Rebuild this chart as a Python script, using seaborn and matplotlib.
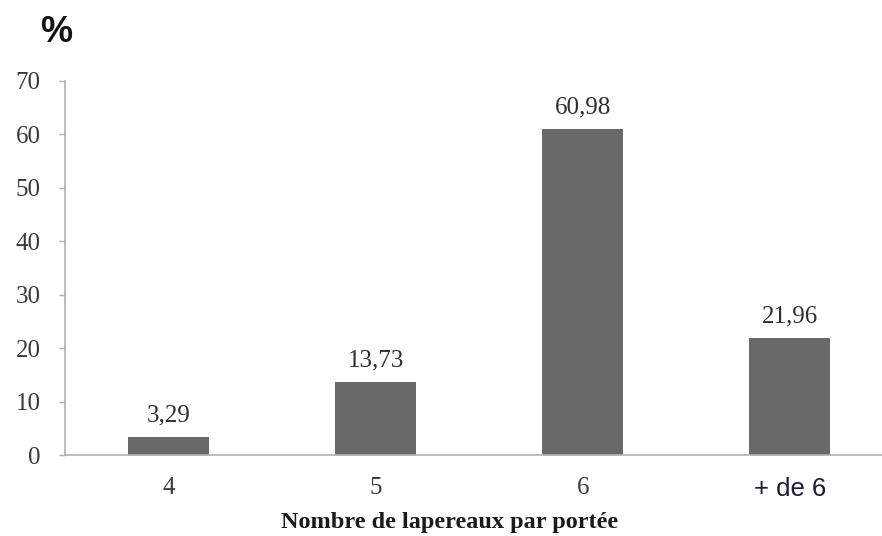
import matplotlib
matplotlib.use("Agg")
import matplotlib.pyplot as plt
import seaborn as sns
import pandas as pd

categories = ["4", "5", "6", "+ de 6"]
percentages = [3.29, 13.73, 60.98, 21.96]
value_labels = ["3,29", "13,73", "60,98", "21,96"]
y_ticks = [0, 10, 20, 30, 40, 50, 60, 70]

df = pd.DataFrame({"portee": categories, "pct": percentages})

sns.set_style("white")
serif = ["Liberation Serif", "DejaVu Serif"]
sans = ["Liberation Sans", "DejaVu Sans"]

fig = plt.figure(figsize=(8.82, 5.36), dpi=100)
ax = fig.add_axes([0.0737, 0.151, 0.939, 0.698])

sns.barplot(data=df, x="portee", y="pct", color="#696969", width=0.39,
            saturation=1, ax=ax, edgecolor="none")

ax.set_ylim(0, 70)
ax.set_xlim(-0.5, 3.5)
ax.set_yticks(y_ticks)
ax.set_yticklabels([str(t) for t in y_ticks], fontfamily=serif, fontsize=18, color="#3a3a3a")

# category labels without tick marks; small ticks at category boundaries
ax.set_xticks(range(len(categories)))
ax.set_xticklabels(categories, fontsize=18, color="#3a3a3a")
for lbl in ax.get_xticklabels():
    if lbl.get_text().startswith("+"):
        lbl.set_fontfamily(sans)
        lbl.set_color("#1a1a3a")
        lbl.set_fontsize(18.5)
    else:
        lbl.set_fontfamily(serif)
ax.tick_params(axis="x", which="major", length=0, pad=16)
ax.set_xticks([i + 0.5 for i in range(-1, len(categories))], minor=True)
ax.tick_params(axis="x", which="minor", length=5, color="#b0b0b0", width=1)
ax.tick_params(axis="y", length=4.5, color="#b0b0b0", width=1, pad=13, left=True)

for side in ["top", "right"]:
    ax.spines[side].set_visible(False)
for side in ["left", "bottom"]:
    ax.spines[side].set_color("#b0b0b0")
    ax.spines[side].set_linewidth(1.2)

for i, (v, t) in enumerate(zip(percentages, value_labels)):
    ax.text(i, v + 2.0, t, ha="center", va="bottom", fontfamily=serif,
            fontsize=18, color="#2e2e2e")

ax.set_xlabel("")
ax.set_ylabel("")
fig.text(0.51, 0.005, "Nombre de lapereaux par portée", ha="center", va="bottom",
         fontfamily=serif, fontsize=17.5, fontweight="bold", color="#1a1a1a")
fig.text(0.045, 0.922, "%", ha="left", va="baseline", fontfamily=sans,
         fontsize=26, fontweight="bold", color="#111111")

fig.savefig("out.png", dpi=100)
